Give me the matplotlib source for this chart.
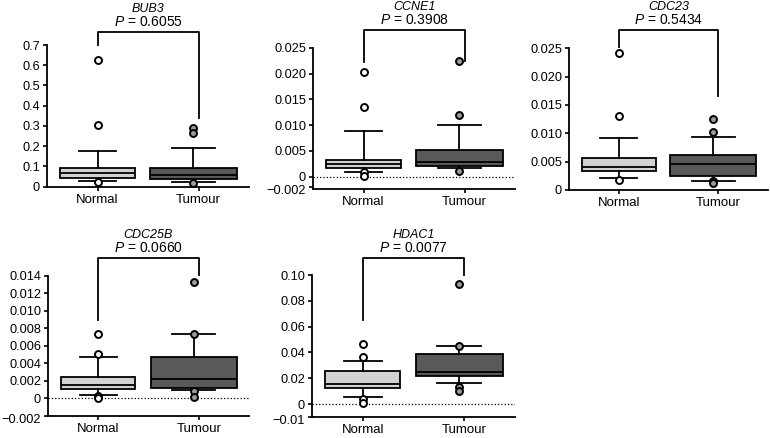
import matplotlib
matplotlib.use('Agg')
import matplotlib.pyplot as plt
from matplotlib.transforms import ScaledTranslation

plt.rcParams['font.family'] = ['Liberation Sans', 'DejaVu Sans']
plt.rcParams['mathtext.fontset'] = 'custom'
plt.rcParams['mathtext.it'] = 'Liberation Sans:italic'
plt.rcParams['mathtext.rm'] = 'Liberation Sans'

groups = ['Normal', 'Tumour']
genes = ['BUB3', 'CCNE1', 'CDC23', 'CDC25B', 'HDAC1']
p_values = ['0.6055', '0.3908', '0.5434', '0.0660', '0.0077']

# box stats: whisker low, q1, median, q3, whisker high
bub3_normal = [0.028, 0.044, 0.066, 0.094, 0.178]
bub3_tumour = [0.021, 0.038, 0.058, 0.094, 0.190]
bub3_normal_out = [0.626, 0.303, 0.025]
bub3_tumour_out = [0.288, 0.265, 0.018]

ccne1_normal = [0.0010, 0.0017, 0.0025, 0.00325, 0.0088]
ccne1_tumour = [0.0016, 0.0020, 0.0029, 0.00526, 0.0101]
ccne1_normal_out = [0.0202, 0.0135, 0.00085, 0.0002]
ccne1_tumour_out = [0.0225, 0.0119, 0.0011]

cdc23_normal = [0.0021, 0.0034, 0.0040, 0.00565, 0.0092]
cdc23_tumour = [0.0016, 0.0025, 0.00453, 0.0062, 0.0094]
cdc23_normal_out = [0.0241, 0.0131, 0.0018]
cdc23_tumour_out = [0.0126, 0.0102, 0.0016, 0.0012]

cdc25b_normal = [0.00038, 0.00107, 0.00153, 0.0024, 0.00477]
cdc25b_tumour = [0.00092, 0.00122, 0.00225, 0.0047, 0.00737]
cdc25b_normal_out = [0.00737, 0.00504, 0.00027, 0.0]
cdc25b_tumour_out = [0.01336, 0.0074, 0.00084, 0.0002]

hdac1_normal = [0.0057, 0.0121, 0.0152, 0.0256, 0.0336]
hdac1_tumour = [0.0165, 0.0217, 0.0251, 0.0385, 0.0450]
hdac1_normal_out = [0.0462, 0.0362, 0.0036, 0.0008]
hdac1_tumour_out = [0.093, 0.045, 0.0134, 0.0103]

# bracket: top, end of normal leg, end of tumour leg
brackets = [
    [0.766, 0.700, 0.338],
    [0.0284, 0.0223, 0.0225],
    [0.0282, 0.0253, 0.0165],
    [0.0161, 0.00897, 0.0141],
    [0.1134, 0.065, 0.0999],
]

yticks = [
    [0, 0.1, 0.2, 0.3, 0.4, 0.5, 0.6, 0.7],
    [-0.002, 0, 0.005, 0.010, 0.015, 0.020, 0.025],
    [0, 0.005, 0.010, 0.015, 0.020, 0.025],
    [-0.002, 0, 0.002, 0.004, 0.006, 0.008, 0.010, 0.012, 0.014],
    [-0.01, 0, 0.02, 0.04, 0.06, 0.08, 0.10],
]
ytick_labels = [
    ['0', '0.1', '0.2', '0.3', '0.4', '0.5', '0.6', '0.7'],
    ['\u22120.002', '0', '0.005', '0.010', '0.015', '0.020', '0.025'],
    ['0', '0.005', '0.010', '0.015', '0.020', '0.025'],
    ['\u22120.002', '0', '0.002', '0.004', '0.006', '0.008', '0.010', '0.012', '0.014'],
    ['\u22120.01', '0', '0.02', '0.04', '0.06', '0.08', '0.10'],
]
ylims = [
    (0, 0.7),
    (-0.0023, 0.025),
    (0, 0.025),
    (-0.002, 0.014),
    (-0.01, 0.10),
]

stats_all = [
    (bub3_normal, bub3_tumour, bub3_normal_out, bub3_tumour_out),
    (ccne1_normal, ccne1_tumour, ccne1_normal_out, ccne1_tumour_out),
    (cdc23_normal, cdc23_tumour, cdc23_normal_out, cdc23_tumour_out),
    (cdc25b_normal, cdc25b_tumour, cdc25b_normal_out, cdc25b_tumour_out),
    (hdac1_normal, hdac1_tumour, hdac1_normal_out, hdac1_tumour_out),
]

# axes boxes in pixels: left, right, top, bottom
W, H = 770, 438
boxes_px = [
    (47, 249, 45, 186.7),
    (313, 515, 47.7, 188.6),
    (569, 768, 48.3, 190),
    (48, 249, 276, 415.8),
    (312, 515, 275, 417),
]

fig = plt.figure(figsize=(W / 100, H / 100), dpi=100)


def make_stats(vals, out):
    return {'whislo': vals[0], 'q1': vals[1], 'med': vals[2], 'q3': vals[3],
            'whishi': vals[4], 'fliers': out}


for i, gene in enumerate(genes):
    l, r, t, b = boxes_px[i]
    ax = fig.add_axes([l / W, 1 - b / H, (r - l) / W, (b - t) / H])
    normal, tumour, normal_out, tumour_out = stats_all[i]
    st = [make_stats(normal, normal_out), make_stats(tumour, tumour_out)]
    res = ax.bxp(st, positions=[1.0, 1.95], widths=[0.74, 0.86], patch_artist=True,
                 boxprops=dict(linewidth=1.3, edgecolor='black'),
                 whiskerprops=dict(linewidth=1.3, color='black'),
                 capprops=dict(linewidth=1.3, color='black'),
                 medianprops=dict(linewidth=1.3, color='black'),
                 flierprops=dict(marker='o', markersize=5, markeredgewidth=1.4,
                                 markeredgecolor='black', markerfacecolor='white'),
                 manage_ticks=False)
    res['boxes'][0].set_facecolor('#d2d2d2')
    res['boxes'][1].set_facecolor('#595959')
    res['fliers'][1].set_markerfacecolor('#9a9a9a')
    for f in res['fliers']:
        f.set_clip_on(False)
        f.set_zorder(5)

    ax.set_xlim(0.5, 2.5)
    ax.set_ylim(*ylims[i])
    ax.set_yticks(yticks[i])
    ax.set_yticklabels(ytick_labels[i])
    ax.set_xticks([1, 2])
    ax.set_xticklabels(groups)
    ax.tick_params(axis='both', length=3, width=1.2, pad=2, colors='black')
    ax.tick_params(axis='y', labelsize=9.2)
    ax.tick_params(axis='x', labelsize=9.5)
    for s in ['top', 'right']:
        ax.spines[s].set_visible(False)
    for s in ['left', 'bottom']:
        ax.spines[s].set_linewidth(1.3)
    if ylims[i][0] < 0:
        ax.axhline(0, color='black', linestyle=':', linewidth=0.9, zorder=0)
        # nudge the bottom label down a bit so it doesn't crowd the "0"
        lab = ax.get_yticklabels()[0]
        lab.set_transform(lab.get_transform()
                          + ScaledTranslation(0, -2.5 / 100, fig.dpi_scale_trans))

    top, leg_n, leg_t = brackets[i]
    ax.plot([1, 1, 2, 2], [leg_n, top, top, leg_t], color='black', linewidth=1.3,
            clip_on=False)
    ax.annotate('$\\it{P}$ = ' + p_values[i], xy=(1.5, top), xytext=(0, 7),
                textcoords='offset points', ha='center', va='center',
                fontsize=10, annotation_clip=False)
    ax.annotate(gene, xy=(1.5, top), xytext=(0, 16.5), textcoords='offset points',
                ha='center', va='center', fontsize=9, style='italic',
                annotation_clip=False)

fig.savefig('out.png', dpi=100)
